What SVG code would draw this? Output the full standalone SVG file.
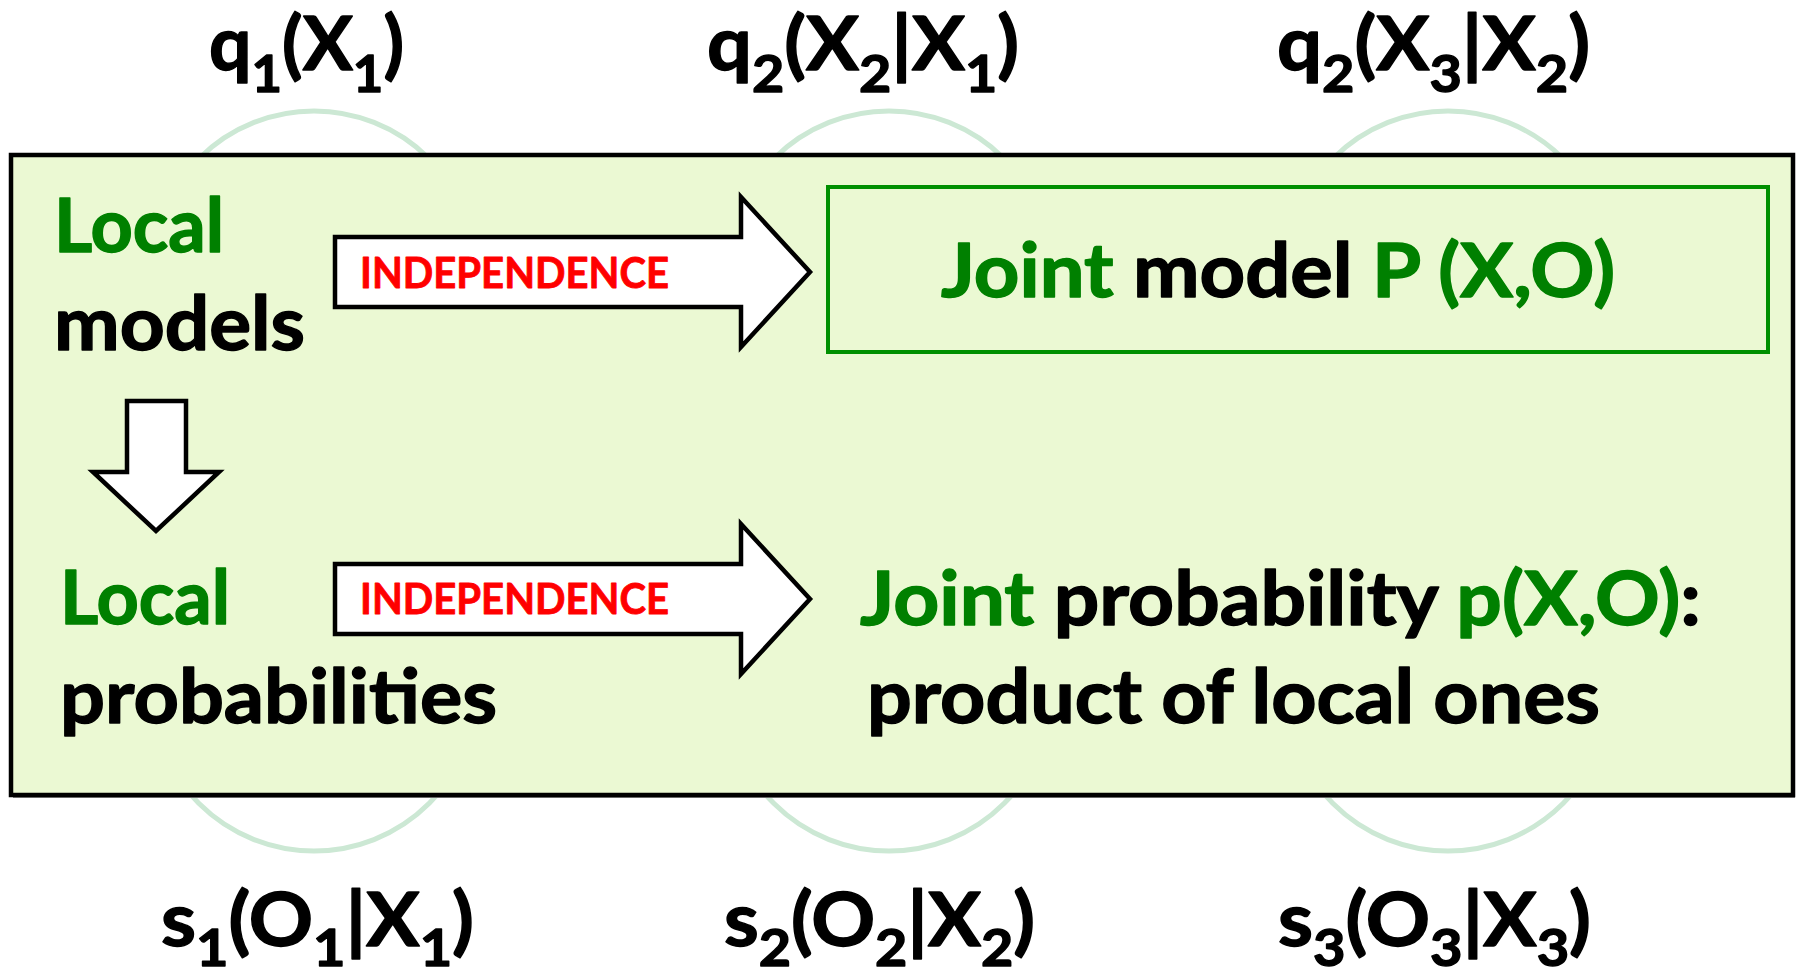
<svg xmlns="http://www.w3.org/2000/svg" width="1799" height="969" viewBox="0 0 1799 969">
  <style>
    text { font-family: "Lato", "Carlito", "Liberation Sans", sans-serif; font-weight: bold; fill: #000; stroke: #000; stroke-width: 1.4; stroke-linejoin: round; }
    .lbl { font-size: 74px; }
    .sub { font-size: 52px; }
    .big { font-size: 74px; }
    .grn { fill: #008000; stroke: #008000; }
    .red { font-size: 42px; fill: #FF0000; stroke: #FF0000; stroke-width: 0.8; }
    .node { fill: none; stroke: #CCE8D4; stroke-width: 5; }
    .blk { fill: #FFFFFF; stroke: #000; stroke-width: 4.5; stroke-linejoin: miter; stroke-miterlimit: 10; }
  </style>

  <!-- hidden state nodes (upper row) -->
  <g id="x1"><circle class="node" cx="314" cy="274" r="163"/>
    <text class="lbl" x="209" y="70" textLength="195" lengthAdjust="spacingAndGlyphs">q<tspan class="sub" dy="22">1</tspan><tspan dy="-22">(X</tspan><tspan class="sub" dy="22">1</tspan><tspan dy="-22">)</tspan></text>
  </g>
  <g id="x2"><circle class="node" cx="889" cy="274" r="163"/>
    <text class="lbl" x="707" y="70" textLength="312" lengthAdjust="spacingAndGlyphs">q<tspan class="sub" dy="22">2</tspan><tspan dy="-22">(X</tspan><tspan class="sub" dy="22">2</tspan><tspan dy="-22">|X</tspan><tspan class="sub" dy="22">1</tspan><tspan dy="-22">)</tspan></text>
  </g>
  <g id="x3"><circle class="node" cx="1448" cy="274" r="163"/>
    <text class="lbl" x="1277" y="70" textLength="313" lengthAdjust="spacingAndGlyphs">q<tspan class="sub" dy="22">2</tspan><tspan dy="-22">(X</tspan><tspan class="sub" dy="22">3</tspan><tspan dy="-22">|X</tspan><tspan class="sub" dy="22">2</tspan><tspan dy="-22">)</tspan></text>
  </g>

  <!-- observation nodes (lower row) -->
  <g id="o1"><circle class="node" cx="314" cy="688" r="163"/>
    <text class="lbl" x="161" y="946" textLength="313" lengthAdjust="spacingAndGlyphs">s<tspan class="sub" dy="20">1</tspan><tspan dy="-20">(O</tspan><tspan class="sub" dy="20">1</tspan><tspan dy="-20">|X</tspan><tspan class="sub" dy="20">1</tspan><tspan dy="-20">)</tspan></text>
  </g>
  <g id="o2"><circle class="node" cx="889" cy="688" r="163"/>
    <text class="lbl" x="724" y="946" textLength="311" lengthAdjust="spacingAndGlyphs">s<tspan class="sub" dy="20">2</tspan><tspan dy="-20">(O</tspan><tspan class="sub" dy="20">2</tspan><tspan dy="-20">|X</tspan><tspan class="sub" dy="20">2</tspan><tspan dy="-20">)</tspan></text>
  </g>
  <g id="o3"><circle class="node" cx="1448" cy="688" r="163"/>
    <text class="lbl" x="1278" y="946" textLength="313" lengthAdjust="spacingAndGlyphs">s<tspan class="sub" dy="20">3</tspan><tspan dy="-20">(O</tspan><tspan class="sub" dy="20">3</tspan><tspan dy="-20">|X</tspan><tspan class="sub" dy="20">3</tspan><tspan dy="-20">)</tspan></text>
  </g>

  <!-- overlay panel -->
  <g id="panel">
    <rect x="13" y="158" width="1782" height="640" fill="#8A8A8A"/>
    <rect x="11" y="155" width="1782" height="640" fill="#EBF9D3" stroke="#000" stroke-width="4.5"/>
  </g>

  <g id="local-models">
    <text class="big grn" x="54" y="252" textLength="170" lengthAdjust="spacingAndGlyphs">Local</text>
    <text class="big" x="54" y="350" textLength="251" lengthAdjust="spacingAndGlyphs">models</text>
  </g>

  <g id="joint-model">
    <rect x="828" y="187" width="940" height="165" fill="none" stroke="#009000" stroke-width="4"/>
    <text class="big" x="941" y="297" textLength="674" lengthAdjust="spacingAndGlyphs"><tspan class="grn">Joint</tspan> model <tspan class="grn">P (X,O)</tspan></text>
  </g>

  <g id="local-probs">
    <text class="big grn" x="60" y="624" textLength="170" lengthAdjust="spacingAndGlyphs">Local</text>
    <text class="big" x="60" y="723" textLength="437" lengthAdjust="spacingAndGlyphs">probabilities</text>
  </g>

  <g id="joint-prob">
    <text class="big" x="860" y="625" textLength="841" lengthAdjust="spacingAndGlyphs"><tspan class="grn">Joint</tspan> probability <tspan class="grn">p(X,O)</tspan>:</text>
    <text class="big" x="867" y="723" textLength="733" lengthAdjust="spacingAndGlyphs">product of local ones</text>
  </g>

  <!-- block arrows -->
  <g id="connectors">
    <polygon class="blk" points="335,237 741,237 741,197 810,272 741,347 741,307 335,307"/>
    <text class="red" x="360" y="288" textLength="309" lengthAdjust="spacingAndGlyphs">INDEPENDENCE</text>
    <polygon class="blk" points="335,564 741,564 741,524 810,599 741,674 741,634 335,634"/>
    <text class="red" x="360" y="614" textLength="309" lengthAdjust="spacingAndGlyphs">INDEPENDENCE</text>
    <polygon class="blk" points="127,401 186,401 186,472 219,472 156,531 93,472 127,472"/>
  </g>
</svg>
